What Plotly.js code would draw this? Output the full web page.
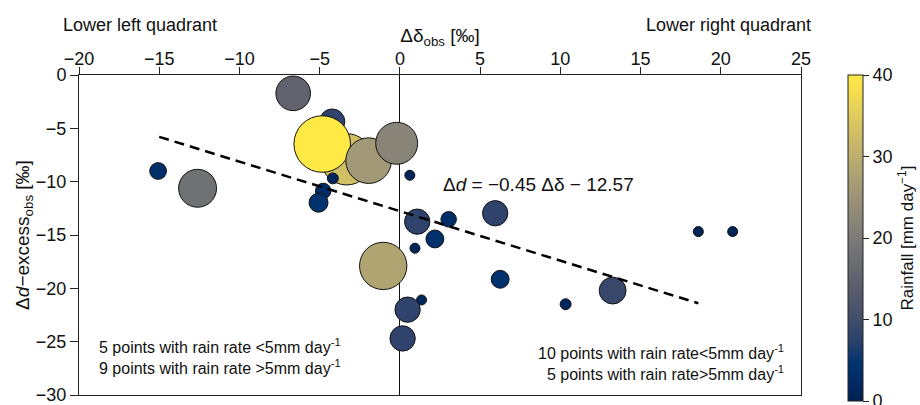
<!DOCTYPE html>
<html>
<head>
<meta charset="utf-8">
<script src="https://cdn.plot.ly/plotly-3.0.1.min.js"></script>
<style>html,body{margin:0;padding:0;background:#fff;}#chart{width:920px;height:405px;}</style>
</head>
<body>
<div id="chart"></div>
<script>
// Observations: Δδ_obs, Δd-excess_obs, rainfall (mm/day)
const deltaObs = [-15.07, -12.61, -6.65, -4.22, -3.32, -4.84, -1.95, -0.2, -1.04, -4.18, -4.78, -5.07,
                  0.62, 1.08, 3.04, 5.94, 2.18, 0.94, 18.6, 20.74, 6.25, 13.26, 10.33, 1.35, 0.48, 0.17];
const dexObs   = [-9.0, -10.62, -1.72, -4.37, -7.9, -6.47, -8.03, -6.4, -17.9, -9.69, -10.87, -11.97,
                  -9.4, -13.75, -13.53, -12.96, -15.37, -16.24, -14.68, -14.68, -19.15, -20.21, -21.49, -21.09, -22.0, -24.7];
const rainfall = [3.5, 18, 15, 8, 33, 40, 26, 22, 28, 1.5, 3, 4.5,
                  1.2, 8, 3, 8, 4, 1.2, 0.9, 0.9, 4, 9, 1.5, 1.2, 8, 8];

// Regression line end points
const fitX = [-15, 18.6];
const fitY = [-5.8, -21.4];

const xTicks = [-20, -15, -10, -5, 0, 5, 10, 15, 20, 25];
const yTicks = [0, -5, -10, -15, -20, -25, -30];
const cbTicks = [0, 10, 20, 30, 40];

const FONT = 'Liberation Sans, Arial, sans-serif';

const traces = [
  {
    type: 'scatter', mode: 'markers',
    x: deltaObs, y: dexObs,
    marker: {
      size: rainfall, sizemode: 'area', sizeref: 0.025, sizemin: 5,
      color: rainfall, colorscale: 'Cividis', cmin: 0, cmax: 40,
      line: {color: '#111', width: 1},
      opacity: 1,
      colorbar: {
        x: 1.065, xanchor: 'left', xpad: 0,
        y: 1, yanchor: 'top', ypad: 0,
        lenmode: 'pixels', len: 326,
        thickness: 15, outlinewidth: 1, outlinecolor: '#222',
        tickvals: cbTicks, ticks: 'outside', ticklen: 6, tickcolor: '#222',
        ticklabeloverflow: 'allow',
        tickfont: {family: FONT, size: 18, color: '#111'},
        title: {text: 'Rainfall [mm day<sup>−1</sup>]', side: 'right', font: {family: FONT, size: 17, color: '#111'}}
      }
    },
    showlegend: false, hoverinfo: 'skip'
  },
  {
    type: 'scatter', mode: 'lines',
    x: fitX, y: fitY,
    line: {color: '#000', width: 2.5, dash: '10px,6px'},
    showlegend: false, hoverinfo: 'skip'
  }
];

const layout = {
  width: 920, height: 405,
  margin: {l: 79, r: 119, t: 75, b: 10, autoexpand: false},
  paper_bgcolor: '#fff', plot_bgcolor: '#fff',
  font: {family: FONT, size: 18, color: '#111'},
  xaxis: {
    side: 'top', range: [-20, 25], tickvals: xTicks,
    ticks: 'outside', ticklen: 7, tickcolor: '#222', ticklabelstandoff: -5,
    ticklabeloverflow: 'allow',
    showline: true, linecolor: '#222', linewidth: 1, mirror: true,
    showgrid: false, zeroline: true, zerolinecolor: '#111', zerolinewidth: 1,
    tickfont: {family: FONT, size: 18, color: '#111'},
    title: {text: 'Δδ<sub>obs</sub> [‰]', font: {family: FONT, size: 19, color: '#111'}, standoff: 0},
    automargin: false
  },
  yaxis: {
    range: [-30, 0], tickvals: yTicks,
    ticks: 'outside', ticklen: 8, tickcolor: '#222',
    ticklabeloverflow: 'allow',
    showline: true, linecolor: '#222', linewidth: 1, mirror: true,
    showgrid: false, zeroline: false,
    tickfont: {family: FONT, size: 18, color: '#111'},
    title: {text: 'Δ<i>d</i>−excess<sub>obs</sub> [‰]', font: {family: FONT, size: 19, color: '#111'}, standoff: 0},
    automargin: false
  },
  annotations: [
    {xref: 'paper', yref: 'paper', x: -0.025, y: 1.156, xanchor: 'left', yanchor: 'middle',
     text: 'Lower left quadrant', showarrow: false, font: {family: FONT, size: 18, color: '#111'}},
    {xref: 'paper', yref: 'paper', x: 1.0166, y: 1.156, xanchor: 'right', yanchor: 'middle',
     text: 'Lower right quadrant', showarrow: false, font: {family: FONT, size: 18, color: '#111'}},
    {xref: 'x', yref: 'y', x: 2.55, y: -10.3, xanchor: 'left', yanchor: 'middle',
     text: 'Δ<i>d</i> = −0.45 Δδ − 12.57', showarrow: false, font: {family: FONT, size: 19, color: '#111'}},
    {xref: 'paper', yref: 'paper', x: 0.025, y: 0.12, xanchor: 'left', yanchor: 'middle', align: 'left',
     text: '5 points with rain rate <5mm day<sup>-1</sup><br>9 points with rain rate >5mm day<sup>-1</sup>',
     showarrow: false, font: {family: FONT, size: 16, color: '#111'}},
    {xref: 'paper', yref: 'paper', x: 0.979, y: 0.1016, xanchor: 'right', yanchor: 'middle', align: 'right',
     text: '10 points with rain rate<5mm day<sup>-1</sup><br>5 points with rain rate>5mm day<sup>-1</sup>',
     showarrow: false, font: {family: FONT, size: 16, color: '#111'}}
  ]
};

Plotly.newPlot('chart', traces, layout, {displayModeBar: false, staticPlot: true});
</script>
</body>
</html>
